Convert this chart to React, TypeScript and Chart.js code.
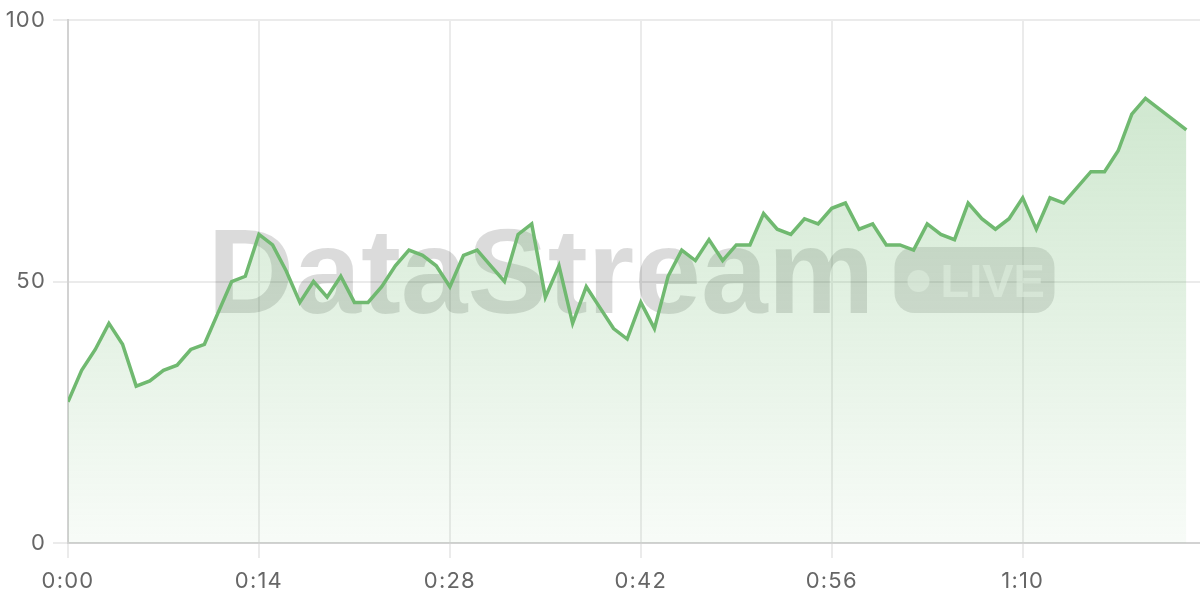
import React, { useEffect, useRef } from "react";
import { Chart, registerables } from "chart.js";

Chart.register(...registerables);

// Seconds since start (one reading per second) and the streamed values
const values: number[] = [
  27, 33, 37, 42, 38, 30, 31, 33, 34, 37, 38, 44, 50, 51, 59, 57, 52, 46, 50, 47,
  51, 46, 46, 49, 53, 56, 55, 53, 49, 55, 56, 53, 50, 59, 61, 47, 53, 42, 49, 45,
  41, 39, 46, 41, 51, 56, 54, 58, 54, 57, 57, 63, 60, 59, 62, 61, 64, 65, 60, 61,
  57, 57, 56, 61, 59, 58, 65, 62, 60, 62, 66, 60, 66, 65, 68, 71, 71, 75, 82, 85,
  83, 81, 79,
];
const xTickValues: number[] = [0, 14, 28, 42, 56, 70];
const yTickValues: number[] = [0, 50, 100];
const watermarkTitle = "DataStream";
const watermarkBadge = "LIVE";

const GREEN = "rgb(112,185,112)";

function fmtTime(s: number): string {
  const m = Math.floor(s / 60);
  const sec = Math.round(s % 60);
  return `${m}:${sec < 10 ? "0" + sec : sec}`;
}

const spacingPlugin = {
  id: "spacing",
  beforeUpdate(chart: any) {
    chart.ctx.letterSpacing = "1.2px";
  },
  beforeDraw(chart: any) {
    chart.ctx.letterSpacing = "1.2px";
  },
};

const watermarkPlugin = {
  id: "watermark",
  beforeDatasetsDraw(chart: any) {
    const { ctx, chartArea } = chart;
    const cx = (chartArea.left + chartArea.right) / 2;
    const cy = (chartArea.top + chartArea.bottom) / 2;
    ctx.save();
    ctx.letterSpacing = "0px";
    ctx.font = 'bold 120px "Liberation Sans", Arial, sans-serif';
    const tw = ctx.measureText(watermarkTitle).width;
    const gap = 20;
    const pw = 160;
    const ph = 66;
    const total = tw + gap + pw;
    const sx = cx - total / 2 - 3;
    ctx.fillStyle = "rgba(0,0,0,0.14)";
    ctx.textBaseline = "alphabetic";
    ctx.textAlign = "left";
    ctx.fillText(watermarkTitle, sx, cy + 31);
    const px = sx + tw + gap;
    const py = cy - 1.5 - ph / 2;
    ctx.beginPath();
    (ctx as any).roundRect(px, py, pw, ph, 20);
    ctx.fillStyle = "rgba(0,0,0,0.12)";
    ctx.fill();
    ctx.fillStyle = "rgba(255,255,255,0.55)";
    ctx.beginPath();
    ctx.arc(px + 24, cy - 0.5, 11, 0, Math.PI * 2);
    ctx.fill();
    ctx.font = 'bold 47px "Liberation Sans Narrow", "Liberation Sans", Arial, sans-serif';
    ctx.fillText(watermarkBadge, px + 46, cy + 15);
    ctx.restore();
  },
};

export default function App() {
  const ref = useRef<HTMLCanvasElement | null>(null);

  useEffect(() => {
    if (!ref.current) return;
    const ctx = ref.current.getContext("2d")!;
    const chart = new Chart(ctx, {
      type: "line",
      data: {
        datasets: [
          {
            data: values.map((v, i) => ({ x: i, y: v })),
            borderColor: GREEN,
            borderWidth: 3.5,
            pointRadius: 0,
            tension: 0,
            fill: "origin",
            backgroundColor: (c: any) => {
              const area = c.chart.chartArea;
              if (!area) return "rgba(112,185,112,0.2)";
              const g = c.chart.ctx.createLinearGradient(0, area.top, 0, area.bottom);
              g.addColorStop(0, "rgba(112,185,112,0.38)");
              g.addColorStop(1, "rgba(112,185,112,0.05)");
              return g;
            },
          },
        ],
      },
      options: {
        animation: false,
        responsive: true,
        maintainAspectRatio: false,
        layout: { padding: { top: 20, right: 0, bottom: 0, left: 0 } },
        plugins: { legend: { display: false }, tooltip: { enabled: false } },
        scales: {
          x: {
            type: "linear",
            min: 0,
            max: 83,
            afterBuildTicks: (scale: any) => {
              scale.ticks = xTickValues.map((v) => ({ value: v }));
            },
            afterFit: (scale: any) => {
              scale.height = 57;
              scale.paddingLeft = 0;
              scale.paddingRight = 0;
            },
            grid: { color: "#ebebeb", lineWidth: 2, tickLength: 15 },
            border: { color: "#d2d2d2", width: 2 },
            ticks: {
              color: "#666",
              font: { family: "Inter", size: 22 },
              padding: 10,
              maxRotation: 0,
              autoSkip: false,
              callback: (v: any) => fmtTime(Number(v)),
            },
          },
          y: {
            min: 0,
            max: 100,
            afterBuildTicks: (scale: any) => {
              scale.ticks = yTickValues.map((v) => ({ value: v }));
            },
            afterFit: (scale: any) => {
              scale.width = 68;
              scale.paddingTop = 0;
              scale.paddingBottom = 0;
            },
            grid: { color: "#ebebeb", lineWidth: 2, tickLength: 15 },
            border: { color: "#d2d2d2", width: 2 },
            ticks: {
              color: "#666",
              font: { family: "Inter", size: 22 },
              padding: 7,
            },
          },
        },
      },
      plugins: [spacingPlugin, watermarkPlugin],
    } as any);
    return () => chart.destroy();
  }, []);

  return (
    <div style={{ position: "fixed", left: 0, top: 0, width: 1200, height: 600, background: "#fff" }}>
      <canvas ref={ref} />
    </div>
  );
}
